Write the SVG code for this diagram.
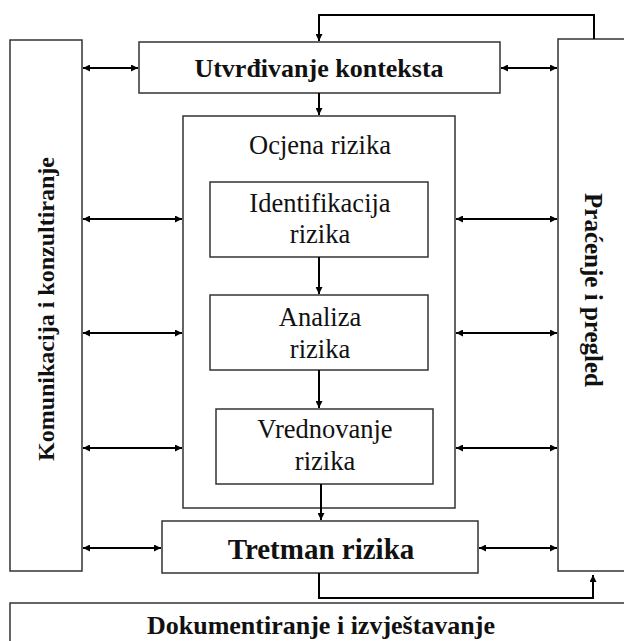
<svg xmlns="http://www.w3.org/2000/svg" width="624" height="641" viewBox="0 0 624 641">
<defs>
<marker id="ah" viewBox="0 0 10 10" refX="10" refY="5" markerWidth="8" markerHeight="7" orient="auto-start-reverse" markerUnits="userSpaceOnUse">
<path d="M0,0 L10,5 L0,10 z" fill="#000"/>
</marker>
<style>
.box{fill:#fff;stroke:#333;stroke-width:1.5}
text{font-family:"Liberation Serif","Times New Roman",serif;fill:#111;text-anchor:middle}
.b{font-weight:bold}
.r{font-size:26.5px}
.c{fill:none;stroke:#000;stroke-width:2}
</style>
</defs>
<rect width="624" height="641" fill="#fff"/>
<g id="komunikacija">
<rect class="box" x="10" y="40" width="72" height="531"/>
<text class="b" font-size="24" transform="translate(54,309) rotate(-90)">Komunikacija i konzultiranje</text>
</g>
<g id="pracenje">
<rect class="box" x="558" y="39" width="70" height="532"/>
<text class="b" font-size="25" transform="translate(585,290) rotate(90)">Praćenje i pregled</text>
</g>
<g id="utvrdivanje">
<rect class="box" x="139" y="42" width="361" height="51"/>
<text class="b" font-size="26" x="319" y="77">Utvrđivanje konteksta</text>
</g>
<g id="ocjena">
<rect class="box" x="183" y="116" width="272" height="392"/>
<text class="r" x="320" y="154">Ocjena rizika</text>
</g>
<g id="identifikacija">
<rect class="box" x="210" y="182" width="218" height="75"/>
<text class="r" x="320" y="212">Identifikacija</text>
<text class="r" x="320" y="243">rizika</text>
</g>
<g id="analiza">
<rect class="box" x="210" y="295" width="218" height="75"/>
<text class="r" x="320" y="326">Analiza</text>
<text class="r" x="320" y="358">rizika</text>
</g>
<g id="vrednovanje">
<rect class="box" x="216" y="409" width="217" height="75"/>
<text class="r" x="325" y="438">Vrednovanje</text>
<text class="r" x="325" y="470">rizika</text>
</g>
<g id="tretman">
<rect class="box" x="162" y="521" width="316" height="52"/>
<text class="b" font-size="29" x="321" y="559">Tretman rizika</text>
</g>
<g id="dokumentiranje">
<rect class="box" x="10" y="603" width="620" height="45"/>
<text class="b" font-size="26" x="321" y="634">Dokumentiranje i izvještavanje</text>
</g>
<g id="connectors">
<path class="c" d="M594,39 V15 H319 V41" marker-end="url(#ah)"/>
<path class="c" d="M319,93 V115" marker-end="url(#ah)"/>
<path class="c" d="M319,257 V294" marker-end="url(#ah)"/>
<path class="c" d="M319,370 V408" marker-end="url(#ah)"/>
<path class="c" d="M321,484 V520" marker-end="url(#ah)"/>
<path class="c" d="M319,573 V598 H593 V575" marker-end="url(#ah)"/>
<path class="c" d="M83,68 H138" marker-start="url(#ah)" marker-end="url(#ah)"/>
<path class="c" d="M83,219 H182" marker-start="url(#ah)" marker-end="url(#ah)"/>
<path class="c" d="M83,333 H182" marker-start="url(#ah)" marker-end="url(#ah)"/>
<path class="c" d="M83,448 H182" marker-start="url(#ah)" marker-end="url(#ah)"/>
<path class="c" d="M83,548 H161" marker-start="url(#ah)" marker-end="url(#ah)"/>
<path class="c" d="M501,68 H557" marker-start="url(#ah)" marker-end="url(#ah)"/>
<path class="c" d="M456,219 H557" marker-start="url(#ah)" marker-end="url(#ah)"/>
<path class="c" d="M456,333 H557" marker-start="url(#ah)" marker-end="url(#ah)"/>
<path class="c" d="M456,448 H557" marker-start="url(#ah)" marker-end="url(#ah)"/>
<path class="c" d="M479,548 H557" marker-start="url(#ah)" marker-end="url(#ah)"/>
</g>
</svg>
